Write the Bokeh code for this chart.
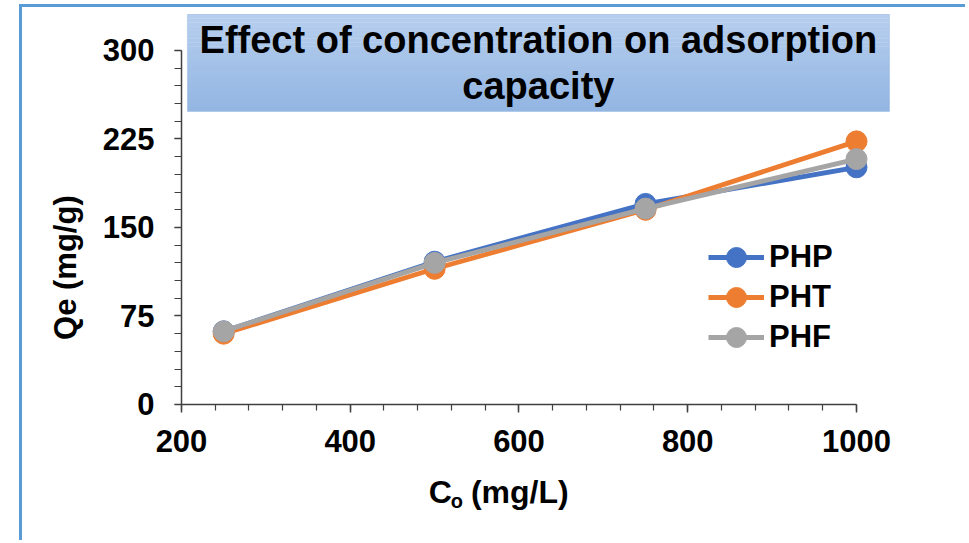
import math
from bokeh.plotting import figure
from bokeh.models import Range1d, FixedTicker, Label, Legend, LegendItem, BoxAnnotation
from bokeh.embed import file_html
from bokeh.resources import INLINE

# ---- data ----
conc = [250, 500, 750, 1000]
php = [62, 121, 170, 201]
pht = [60, 115, 165, 223]
phf = [62, 120, 166, 208]
series_names = ["PHP", "PHT", "PHF"]
series_colors = ["#4472C4", "#ED7D31", "#A5A5A5"]
x_ticks = [200, 400, 600, 800, 1000]
y_ticks = [0, 75, 150, 225, 300]
title_text = "Effect of concentration on adsorption\ncapacity"
ylabel_text = "Qe (mg/g)"

FONT = "Liberation Sans"

# frame fills the whole canvas; axes sit at fixed data locations with bounds
p = figure(width=946, height=536,
           x_range=Range1d(11.56, 1132.75), y_range=Range1d(-117.8, 336.44),
           output_backend="svg", toolbar_location=None,
           min_border_left=0, min_border_right=0,
           min_border_top=0, min_border_bottom=0)
p.styles = {"margin-left": "19px", "margin-top": "4px",
            "border-left": "3px solid #5B9BD5", "border-top": "3px solid #5B9BD5"}
p.outline_line_color = None
p.xgrid.visible = False
p.ygrid.visible = False
p.background_fill_color = "white"
p.border_fill_color = "white"

# axes
xa = p.xaxis[0]
ya = p.yaxis[0]
xa.fixed_location = 0
ya.fixed_location = 200
xa.bounds = (200, 1000)
ya.bounds = (0, 300)
xa.ticker = FixedTicker(ticks=x_ticks, minor_ticks=list(range(200, 1001, 40)))
ya.ticker = FixedTicker(ticks=y_ticks, minor_ticks=list(range(0, 301, 15)))
for ax in (xa, ya):
    ax.axis_line_color = "#404040"
    ax.axis_line_width = 1.5
    ax.major_tick_line_color = "#404040"
    ax.minor_tick_line_color = "#404040"
    ax.major_tick_line_width = 1.5
    ax.minor_tick_line_width = 1.2
    ax.major_tick_in = 0
    ax.minor_tick_in = 0
    ax.major_label_text_font = FONT
    ax.major_label_text_font_style = "bold"
    ax.major_label_text_font_size = "31px"
    ax.major_label_text_color = "black"
xa.major_tick_out = 8
xa.minor_tick_out = 6
ya.major_tick_out = 7
ya.minor_tick_out = 7
xa.major_label_standoff = 18
ya.major_label_standoff = 20

# title box background: vertical gradient approximated by thin strips
box_l, box_r, box_b, box_t = 207.1, 1039.1, 248.3, 330.5
top_rgb = (0xB7, 0xCF, 0xEE)
bot_rgb = (0x92, 0xB5, 0xE2)
n_strips = 24
for i in range(n_strips):
    f = (i + 0.5) / n_strips
    rgb = tuple(int(round(t + (b - t) * f)) for t, b in zip(top_rgb, bot_rgb))
    y_hi = box_t - (box_t - box_b) * i / n_strips
    y_lo = box_t - (box_t - box_b) * (i + 1) / n_strips
    p.add_layout(BoxAnnotation(left=box_l, right=box_r, top=y_hi + 0.3, bottom=y_lo,
                               fill_color="#%02X%02X%02X" % rgb, fill_alpha=1.0,
                               line_color=None, level="underlay"))
p.add_layout(BoxAnnotation(left=box_l, right=box_r, top=box_t, bottom=box_b,
                           fill_color=None, line_color="#7FA6D9", line_width=1.2,
                           level="underlay"))

# series
renderers = []
for name, ys, col in zip(series_names, [php, pht, phf], series_colors):
    lr = p.line(conc, ys, line_width=4.8, line_color=col)
    sr = p.scatter(conc, ys, size=21, fill_color=col, line_color=col)
    renderers.append((name, lr, sr))

# one legend per entry so rows can sit 40px apart with large markers
legend_y = [261, 221, 181]
for (name, lr, sr), ly in zip(renderers, legend_y):
    lg = Legend(items=[LegendItem(label=name, renderers=[lr, sr])], location=(686, ly))
    lg.glyph_width = 56
    lg.glyph_height = 50
    lg.label_standoff = 5
    lg.padding = 0
    lg.margin = 0
    lg.border_line_color = None
    lg.background_fill_alpha = 0
    lg.label_text_font = FONT
    lg.label_text_font_style = "bold"
    lg.label_text_font_size = "31px"
    lg.label_text_color = "black"
    p.add_layout(lg)

# title text
title = Label(x=623, y=289.4, text=title_text, text_align="center", text_baseline="middle",
              text_font=FONT, text_font_style="bold", text_font_size="38px", text_color="black",
              text_line_height=1.1)
p.add_layout(title)

# y axis label
p.add_layout(Label(x=62.5, y=116, text=ylabel_text, angle=math.pi / 2,
                   text_align="center", text_baseline="middle",
                   text_font=FONT, text_font_style="bold", text_font_size="31px",
                   text_color="black"))

# x axis label  C_o (mg/L)
p.add_layout(Label(x=493, y=-74, text="C", text_align="left", text_baseline="alphabetic",
                   text_font=FONT, text_font_style="bold", text_font_size="32px",
                   text_color="black"))
p.add_layout(Label(x=519, y=-81.5, text="o", text_align="left", text_baseline="alphabetic",
                   text_font=FONT, text_font_style="bold", text_font_size="20px",
                   text_color="black"))
p.add_layout(Label(x=543, y=-74, text="(mg/L)", text_align="left", text_baseline="alphabetic",
                   text_font=FONT, text_font_style="bold", text_font_size="32px",
                   text_color="black"))

open("out.html", "w").write(file_html(p, INLINE))
